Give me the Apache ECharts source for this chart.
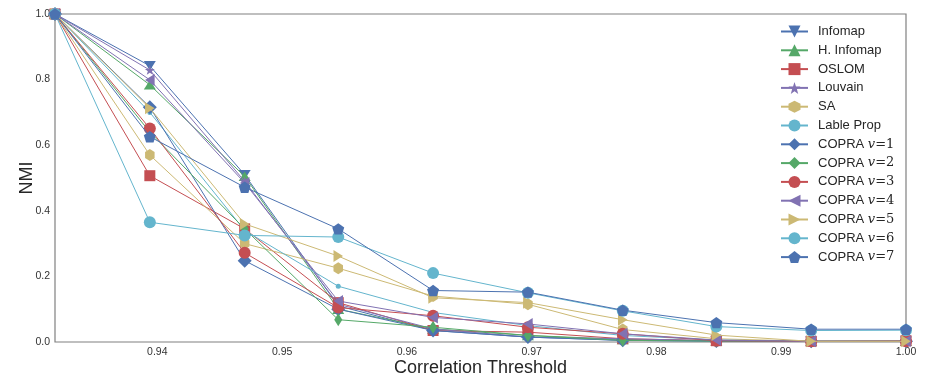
<!DOCTYPE html>
<html>
<head>
<meta charset="utf-8">
<script src="https://cdn.jsdelivr.net/npm/echarts@6/dist/echarts.min.js"></script>
<style>html,body{margin:0;padding:0;background:#fff}#c{width:927px;height:379px}</style>
</head>
<body>
<div id="c"></div>
<script>
// Thresholds (x values)
const thresholds = [0.9318, 0.9394, 0.9470, 0.9545, 0.9621, 0.9697, 0.9773, 0.9848, 0.9924, 1.0];
const xTickLabels = [0.94, 0.95, 0.96, 0.97, 0.98, 0.99, 1.00];
const yTickLabels = [0.0, 0.2, 0.4, 0.6, 0.8, 1.0];

const seriesNames = ["Infomap", "H. Infomap", "OSLOM", "Louvain", "SA", "Lable Prop",
  "COPRA v=1", "COPRA v=2", "COPRA v=3", "COPRA v=4", "COPRA v=5", "COPRA v=6", "COPRA v=7"];

const infomap   = [1.0, 0.842, 0.510, 0.110, 0.035, 0.015, 0.005, 0.003, 0.002, 0.002];
const hInfomap  = [1.0, 0.784, 0.505, 0.100, 0.040, 0.020, 0.008, 0.003, 0.002, 0.002];
const oslom     = [1.0, 0.507, 0.345, 0.120, 0.035, 0.030, 0.010, 0.004, 0.002, 0.004];
const louvain   = [1.0, 0.829, 0.490, 0.115, 0.040, 0.015, 0.010, 0.004, 0.002, 0.002];
const sa        = [1.0, 0.570, 0.300, 0.225, 0.140, 0.115, 0.038, 0.010, 0.002, 0.002];
const lableProp = [1.0, 0.700, 0.340, 0.170, 0.090, 0.050, 0.020, 0.006, 0.002, 0.002];
const copra1    = [1.0, 0.716, 0.248, 0.100, 0.035, 0.015, 0.005, 0.003, 0.002, 0.002];
const copra2    = [1.0, 0.640, 0.345, 0.068, 0.045, 0.020, 0.005, 0.003, 0.002, 0.002];
const copra3    = [1.0, 0.651, 0.272, 0.105, 0.080, 0.045, 0.025, 0.004, 0.002, 0.002];
const copra4    = [1.0, 0.799, 0.485, 0.125, 0.075, 0.055, 0.025, 0.006, 0.002, 0.002];
const copra5    = [1.0, 0.713, 0.360, 0.262, 0.135, 0.120, 0.068, 0.021, 0.002, 0.002];
const copra6    = [1.0, 0.365, 0.325, 0.320, 0.210, 0.150, 0.095, 0.047, 0.035, 0.036];
const copra7    = [1.0, 0.626, 0.472, 0.345, 0.157, 0.152, 0.097, 0.059, 0.039, 0.039];

const values = [infomap, hInfomap, oslom, louvain, sa, lableProp, copra1, copra2, copra3, copra4, copra5, copra6, copra7];

const C = {blue:'#4C72B0', green:'#55A868', red:'#C44E52', purple:'#8172B2', yellow:'#CCB974', cyan:'#64B5CD'};
const P = {
  triDown: 'path://M-10,-8.66 L10,-8.66 L0,8.66 Z',
  triUp: 'path://M-10,8.66 L10,8.66 L0,-8.66 Z',
  triLeft: 'path://M-8.66,0 L8.66,-10 L8.66,10 Z',
  triRight: 'path://M8.66,0 L-8.66,-10 L-8.66,10 Z',
  star: 'path://M0,-10 L2.35,-3.24 L9.51,-3.09 L3.8,1.24 L5.88,8.09 L0,4 L-5.88,8.09 L-3.8,1.24 L-9.51,-3.09 L-2.35,-3.24 Z',
  hex: 'path://M0,-10 L8.66,-5 L8.66,5 L0,10 L-8.66,5 L-8.66,-5 Z',
  pent: 'path://M0,-10 L9.51,-3.09 L5.88,8.09 L-5.88,8.09 L-9.51,-3.09 Z'
};
const styles = [
  {c:C.blue, s:P.triDown, z:[12,11]},
  {c:C.green, s:P.triUp, z:[12,11]},
  {c:C.red, s:'rect', z:[11,11]},
  {c:C.purple, s:P.star, z:[10,10]},
  {c:C.yellow, s:P.hex, z:[11,12]},
  {c:C.cyan, s:'circle', z:[5,5]},
  {c:C.blue, s:'diamond', z:[14,14]},
  {c:C.green, s:'diamond', z:[8,13]},
  {c:C.red, s:'circle', z:[12,12]},
  {c:C.purple, s:P.triLeft, z:[11,12]},
  {c:C.yellow, s:P.triRight, z:[11,12]},
  {c:C.cyan, s:'circle', z:[12,12]},
  {c:C.blue, s:P.pent, z:[12,12]}
];

const series = seriesNames.map((name, i) => ({
  name: name,
  type: 'line',
  data: thresholds.map((x, j) => [x, values[i][j]]),
  symbol: styles[i].s,
  symbolSize: styles[i].z,
  symbolKeepAspect: true,
  showAllSymbol: true,
  lineStyle: {color: styles[i].c, width: 1},
  itemStyle: {color: styles[i].c},
  emphasis: {disabled: true},
  animation: false,
  z: 2 + i
}));

const font = "'Liberation Sans', Arial, sans-serif";
const chart = echarts.init(document.getElementById('c'), null, {renderer: 'canvas'});
chart.setOption({
  backgroundColor: '#fff',
  animation: false,
  textStyle: {fontFamily: font},
  grid: {left: 55, right: 21, top: 14, bottom: 37, show: true, borderColor: '#808080', borderWidth: 1.2,
         backgroundColor: 'transparent', outerBoundsMode: 'none', containLabel: false},
  legend: {
    orient: 'vertical',
    left: 780,
    top: 25,
    padding: 0,
    itemWidth: 27,
    itemHeight: 15,
    itemGap: 5.8,
    textStyle: {
      fontFamily: font, fontSize: 13, color: '#262626', padding: [0, 0, 0, 5],
      rich: {
        t: {fontFamily: font, fontSize: 13, color: '#262626'},
        v: {fontFamily: "'DejaVu Serif', serif", fontStyle: 'italic', fontSize: 13, color: '#262626'},
        e: {fontFamily: "'DejaVu Serif', serif", fontSize: 13, color: '#262626'}
      }
    },
    formatter: function (name) {
      const m = name.match(/^COPRA v=(\d)$/);
      if (m) return '{t|COPRA }{v|v}{e|=' + m[1] + '}';
      return name;
    },
    data: seriesNames
  },
  xAxis: {
    type: 'value',
    min: thresholds[0],
    max: 1.0,
    name: 'Correlation Threshold',
    nameLocation: 'middle',
    nameGap: 17,
    nameMoveOverlap: false,
    nameTextStyle: {fontSize: 18, color: '#262626', fontFamily: font},
    axisLine: {show: false},
    axisTick: {show: false},
    splitLine: {show: false},
    axisLabel: {
      customValues: xTickLabels,
      formatter: v => v.toFixed(2),
      fontSize: 10.5, color: '#333', margin: 5, fontFamily: font
    }
  },
  yAxis: {
    type: 'value',
    min: 0, max: 1, interval: 0.2,
    name: 'NMI',
    nameLocation: 'middle',
    nameGap: 19,
    nameMoveOverlap: false,
    nameTextStyle: {fontSize: 18, color: '#262626', fontFamily: font},
    axisLine: {show: false},
    axisTick: {show: false},
    splitLine: {show: false},
    axisLabel: {
      customValues: yTickLabels,
      formatter: v => v.toFixed(1),
      fontSize: 10.5, color: '#333', margin: 5, fontFamily: font
    }
  },
  series: series
});
</script>
</body>
</html>
